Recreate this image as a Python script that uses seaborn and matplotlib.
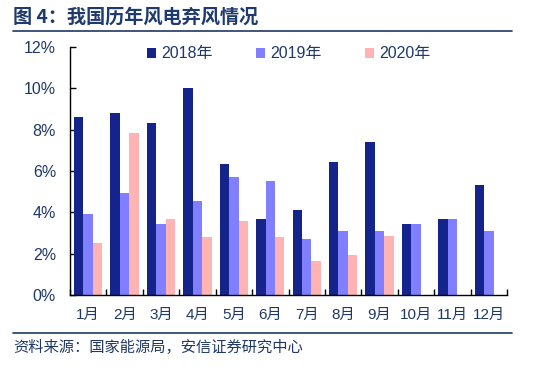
import seaborn as sns
import matplotlib.pyplot as plt
import pandas as pd
from matplotlib.lines import Line2D
from matplotlib.ticker import FuncFormatter, FixedLocator

months = ['1月', '2月', '3月', '4月', '5月', '6月', '7月', '8月', '9月', '10月', '11月', '12月']
years = ['2018年', '2019年', '2020年']
curtail_2018 = [8.6, 8.8, 8.3, 10.0, 6.35, 3.7, 4.1, 6.45, 7.4, 3.45, 3.7, 5.3]
curtail_2019 = [3.9, 4.95, 3.45, 4.55, 5.7, 5.5, 2.7, 3.1, 3.1, 3.45, 3.7, 3.1]
curtail_2020 = [2.5, 7.85, 3.7, 2.8, 3.6, 2.8, 1.65, 1.95, 2.85]

rows = []
for year, vals in zip(years, [curtail_2018, curtail_2019, curtail_2020]):
    for m, v in zip(months, vals):
        rows.append({'month': m, 'year': year, 'value': v})
df = pd.DataFrame(rows)

sns.set_style('white')
plt.rcParams['font.family'] = ['Liberation Sans', 'Noto Sans CJK SC', 'DejaVu Sans']

text_color = '#1F3864'
fig = plt.figure(figsize=(5.37, 3.68), dpi=100)
ax = fig.add_axes([70 / 537, 1 - 295 / 368, 437 / 537, 248 / 368])

sns.barplot(data=df, x='month', y='value', hue='year', order=months, hue_order=years,
            palette=['#15248A', '#7F7FFF', '#FFB3B3'], saturation=1, width=0.78,
            linewidth=0, errorbar=None, ax=ax)

ax.set_xlim(-0.5, 11.5)
ax.set_ylim(0, 12)
ax.set_yticks(range(0, 13, 2))
ax.yaxis.set_major_formatter(FuncFormatter(lambda v, p: f'{v:.0f}%'))
ax.set_xlabel('')
ax.set_ylabel('')
for s in ['top', 'right']:
    ax.spines[s].set_visible(False)
for s in ['left', 'bottom']:
    ax.spines[s].set_color('black')
    ax.spines[s].set_linewidth(1)

ax.tick_params(axis='y', direction='in', length=4, width=1, color='black',
               labelsize=11.5, labelcolor=text_color, pad=10, left=True)
ax.tick_params(axis='x', which='major', length=0, labelsize=11, labelcolor=text_color, pad=9)
ax.xaxis.set_minor_locator(FixedLocator([i + 0.5 for i in range(-1, 12)]))
ax.tick_params(axis='x', which='minor', direction='in', length=4, width=1, color='black', bottom=True)

ax.legend(loc='upper center', bbox_to_anchor=(0.5, 1.06), ncol=3, frameon=False,
          handlelength=0.6, handleheight=0.6, handletextpad=0.3, columnspacing=2.7,
          fontsize=11.5, labelcolor=text_color)

fig.text(13 / 537, 1 - 17 / 368, '图 4：我国历年风电弃风情况', fontsize=13.8, fontweight='bold',
         color='#1F3A6E', va='center', ha='left', family=['Noto Sans CJK SC', 'DejaVu Sans'])
fig.add_artist(Line2D([13 / 537, 512 / 537], [1 - 31 / 368] * 2, color='#1F3864', lw=1.2))
fig.add_artist(Line2D([13 / 537, 512 / 537], [1 - 333 / 368] * 2, color='#1F3864', lw=1.2))
fig.text(13 / 537, 1 - 347 / 368, '资料来源：国家能源局，安信证券研究中心', fontsize=11,
         color=text_color, va='center', ha='left', style='italic',
         family=['Noto Sans CJK SC', 'DejaVu Sans'])

fig.savefig('out.png', dpi=100)
